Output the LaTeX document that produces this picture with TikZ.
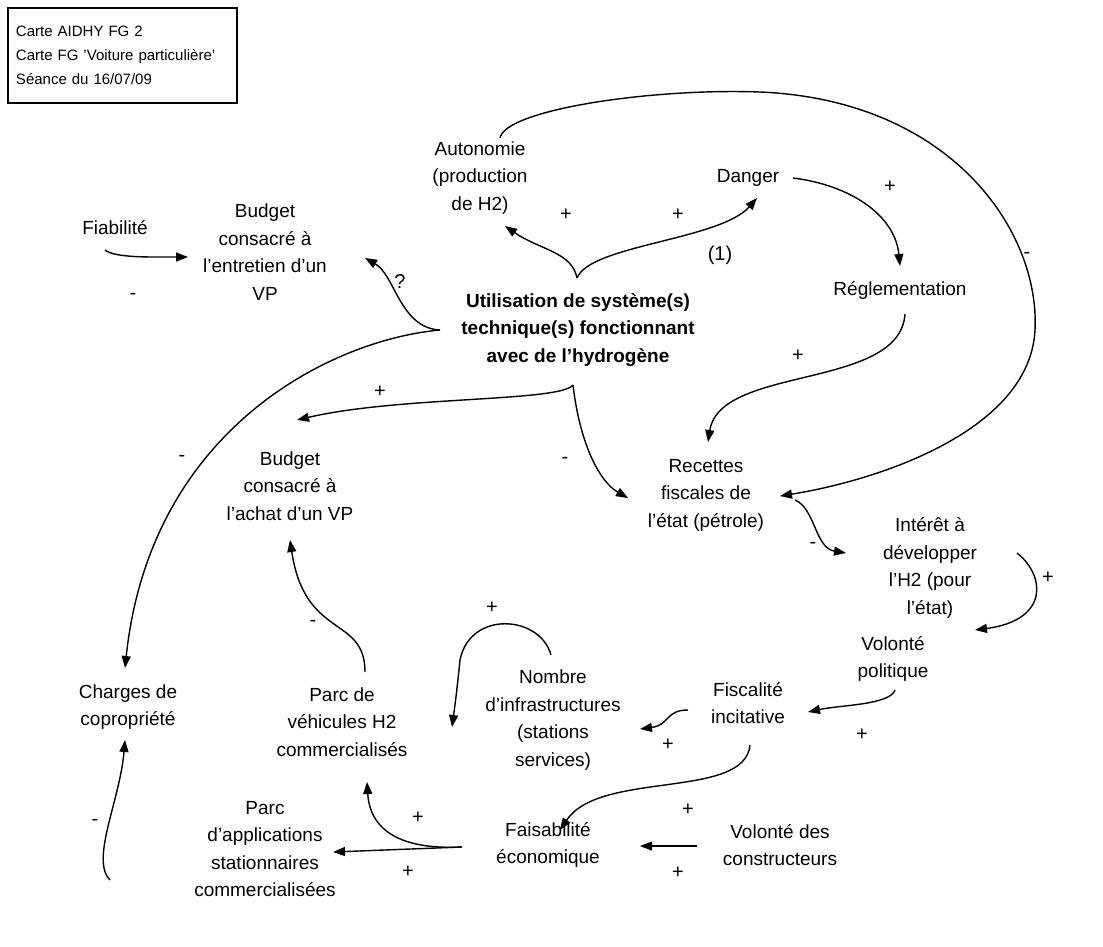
\documentclass[tikz,border=0pt]{standalone}
\usepackage{fontspec}
\setmainfont{Liberation Sans}
\usetikzlibrary{arrows.meta}
\begin{document}
\begin{tikzpicture}[x=1pt,y=-1pt,
  lbl/.style={align=center, font=\fontsize{19}{27.5}\selectfont, inner sep=1pt},
  sign/.style={font=\fontsize{20}{22}\selectfont, inner sep=0pt},
  link/.style={line width=1.4pt, -{Triangle[length=12pt,width=9pt]}},
]
\useasboundingbox (0,0) rectangle (1103,946);
\fill[white] (0,0) rectangle (1103,946);

% title box
\node[draw, line width=1.2pt, align=left, font=\fontsize{15}{24}\selectfont,
  minimum width=229pt, minimum height=95pt, text width=213pt, inner xsep=8pt]
  (title) at (122.5,55.5) {Carte AIDHY FG 2\\Carte FG 'Voiture particulière'\\Séance du 16/07/09};

% nodes
\node[lbl] (auto) at (480,178) {Autonomie\\(production\\de H2)};
\node[lbl] (danger) at (748,178) {Danger};
\node[lbl] (fiab) at (115,228) {Fiabilité};
\node[lbl] (bent) at (265,252) {Budget\\consacré à\\l’entretien d’un\\VP};
\node[lbl, font={\fontsize{19}{27.5}\selectfont\bfseries}] (central) at (578,330) {Utilisation de système(s)\\technique(s) fonctionnant\\avec de l’hydrogène};
\node[lbl] (regl) at (900,290) {Réglementation};
\node[lbl] (bachat) at (290,486) {Budget\\consacré à\\l’achat d’un VP};
\node[lbl] (recettes) at (706,495) {Recettes\\fiscales de\\l’état (pétrole)};
\node[lbl] (interet) at (930,568) {Intérêt à\\développer\\l’H2 (pour\\l’état)};
\node[lbl] (volpol) at (893,659) {Volonté\\politique};
\node[lbl] (fiscal) at (748,703) {Fiscalité\\incitative};
\node[lbl] (nombre) at (553,720) {Nombre\\d’infrastructures\\(stations\\services)};
\node[lbl] (parcveh) at (342,722) {Parc de\\véhicules H2\\commercialisés};
\node[lbl] (charges) at (128,707) {Charges de\\copropriété};
\node[lbl] (faisab) at (548,845) {Faisabilité\\économique};
\node[lbl] (volcons) at (780,845) {Volonté des\\constructeurs};
\node[lbl] (parcapp) at (265,849) {Parc\\d’applications\\stationnaires\\commercialisées};

% junction points
\coordinate (ctop) at ([shift={(-1,-52)}]central.center);
\coordinate (cleft) at ([shift={(-138,0)}]central.center);
\coordinate (cbot) at ([shift={(-5,55)}]central.center);
\coordinate (fout) at ([shift={(-86,2)}]faisab.center);

% connectors
\draw[link] ([shift={(-10,22)}]fiab.center) .. controls (115,258) and (150,257) .. ([shift={(-77,5)}]bent.center);
\draw[link] (ctop) .. controls (572,252) and (540,250) .. ([shift={(25,48)}]auto.center);
\draw[link] (ctop) .. controls (590,245) and (720,240) .. ([shift={(9,20)}]danger.center);
\draw[link] (cleft) .. controls (400,328) and (395,275) .. ([shift={(100,6)}]bent.center);
\draw[link] (cleft) .. controls (330,340) and (150,430) .. ([shift={(-3,-39)}]charges.center);
\draw[link] (cbot) .. controls (560,402) and (400,396) .. ([shift={(7,-66)}]bachat.center);
\draw[link] (cbot) .. controls (580,445) and (600,482) .. ([shift={(-78,3)}]recettes.center);
\draw[link] ([shift={(20,-40)}]auto.center) .. controls (505,110) and (650,88) .. (760,92)
  .. controls (950,100) and (1040,230) .. (1035,330)
  .. controls (1030,430) and (880,480) .. ([shift={(74,1)}]recettes.center);
\draw[link] ([shift={(45,0)}]danger.center) .. controls (850,185) and (895,215) .. ([shift={(0,-24)}]regl.center);
\draw[link] ([shift={(5,24)}]regl.center) .. controls (900,390) and (720,365) .. ([shift={(2,-53)}]recettes.center);
\draw[link] ([shift={(89,5)}]recettes.center) .. controls (815,508) and (815,548) .. ([shift={(-84,-15)}]interet.center);
\draw[link] ([shift={(87,-15)}]interet.center) .. controls (1045,575) and (1050,620) .. ([shift={(82,-29)}]volpol.center);
\draw[link] ([shift={(2,31)}]volpol.center) .. controls (890,705) and (840,705) .. ([shift={(60,9)}]fiscal.center);
\draw[link] ([shift={(-60,7)}]fiscal.center) .. controls (665,710) and (670,725) .. ([shift={(87,9)}]nombre.center);
\draw[link] ([shift={(-2,-65)}]nombre.center) .. controls (540,615) and (470,610) .. (460,660)
  .. controls (457,690) and (455,705) .. ([shift={(110,5)}]parcveh.center);
\draw[link] ([shift={(23,-50)}]parcveh.center) .. controls (365,615) and (305,640) .. ([shift={(0,54)}]bachat.center);
\draw[link] ([shift={(2,42)}]fiscal.center) .. controls (745,800) and (600,770) .. ([shift={(12,-15)}]faisab.center);
\draw[link] ([shift={(-83,1)}]volcons.center) -- ([shift={(92,1)}]faisab.center);
\draw[link] (fout) -- ([shift={(68,3)}]parcapp.center);
\draw[link] (fout) .. controls (400,850) and (370,830) .. ([shift={(25,60)}]parcveh.center);
\draw[link] ([shift={(-155,31)}]parcapp.center) .. controls (90,860) and (120,800) .. ([shift={(-3,33)}]charges.center);

% signs
\node[sign] (s1) at (566,215) {+};
\node[sign] (s2) at (678,215) {+};
\node[sign] (s3) at (720,255) {(1)};
\node[sign] (s4) at (890,187) {+};
\node[sign] (s5) at (1027,255) {-};
\node[sign] (s6) at (133,296) {-};
\node[sign] (s7) at (400,282) {?};
\node[sign] (s8) at (798,356) {+};
\node[sign] (s9) at (380,392) {+};
\node[sign] (s10) at (182,458) {-};
\node[sign] (s11) at (565,460) {-};
\node[sign] (s12) at (813,545) {-};
\node[sign] (s13) at (1048,578) {+};
\node[sign] (s14) at (862,735) {+};
\node[sign] (s15) at (668,745) {+};
\node[sign] (s16) at (492,608) {+};
\node[sign] (s17) at (313,623) {-};
\node[sign] (s18) at (688,810) {+};
\node[sign] (s19) at (678,873) {+};
\node[sign] (s20) at (408,872) {+};
\node[sign] (s21) at (418,818) {+};
\node[sign] (s22) at (95,822) {-};
\end{tikzpicture}
\end{document}
